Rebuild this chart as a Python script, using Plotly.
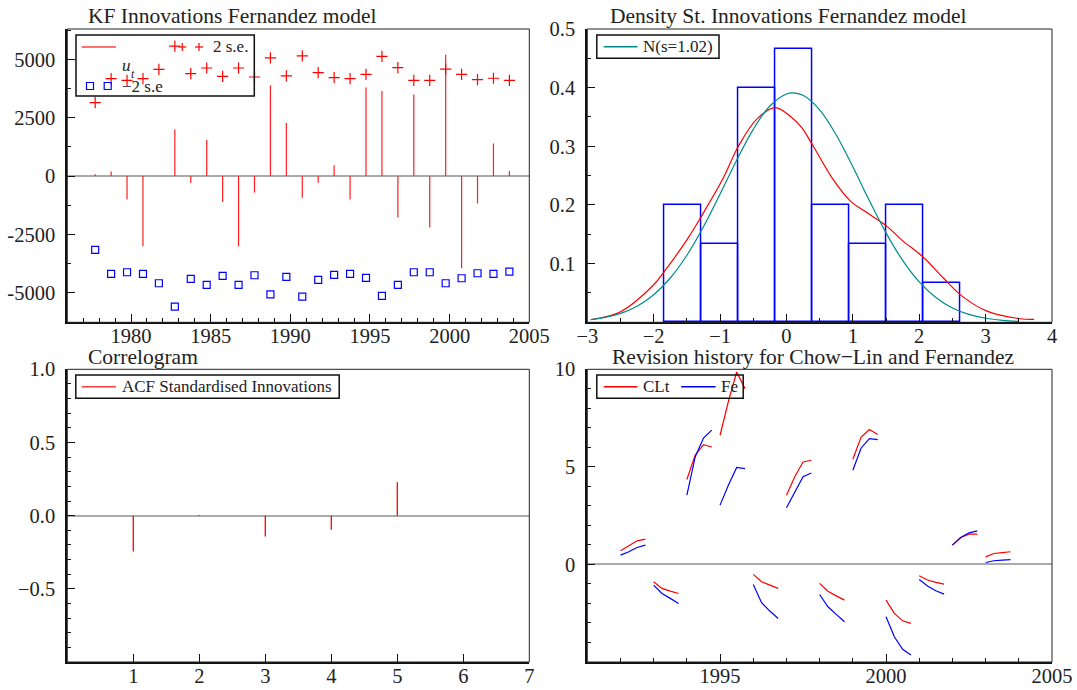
import plotly.graph_objects as go

FONT = "Liberation Serif, Times New Roman, serif"
TXT = "#222222"

# ---------------- data: KF innovations ----------------
years = list(range(1977, 2004))
innov = [80, 200, -1000, -3000, 20, 2000, -300, 1550, -1100, -3000, -700, 3880, 2270,
         -930, -280, 450, -1000, 3800, 3650, -1770, 3500, -2200, 5200, -3950, -1170, 1400, 220]
se_upper = [3150, 4175, 4100, 4175, 4573, 5570, 4390, 4630, 4273, 4630, 4245, 5060, 4290,
            5145, 4430, 4215, 4175, 4360, 5130, 4645, 4100, 4100, 4585, 4360, 4130, 4190, 4100]
se_lower = [-3162, -4188, -4117, -4188, -4587, -5585, -4402, -4658, -4274, -4658, -4245, -5060, -4316,
            -5160, -4444, -4231, -4188, -4359, -5130, -4658, -4117, -4117, -4587, -4373, -4160, -4188, -4088]
period_offset = 0.75

# ---------------- data: density ----------------
bin_centers = [-1.561, -1.003, -0.445, 0.113, 0.671, 1.229, 1.787, 2.345]
bin_density = [0.2, 0.1333, 0.4, 0.4667, 0.2, 0.1333, 0.2, 0.0667]
bin_width = 0.558
kde_x = [-2.92, -2.5, -2.0, -1.83, -1.48, -1.28, -0.97, -0.72, -0.45, -0.17, 0.07, 0.23,
         0.40, 0.70, 0.96, 1.21, 1.51, 1.73, 2.07, 2.36, 2.64, 3.02, 3.52, 3.73]
kde_y = [0.005, 0.018, 0.064, 0.088, 0.144, 0.181, 0.242, 0.301, 0.346, 0.366, 0.350, 0.332,
         0.301, 0.244, 0.207, 0.187, 0.164, 0.141, 0.110, 0.076, 0.045, 0.019, 0.006, 0.005]
norm_x = [-2.95, -2.75, -2.5, -2.25, -2.0, -1.75, -1.5, -1.25, -1.0, -0.75, -0.5, -0.25, 0.0,
          0.1, 0.25, 0.5, 0.75, 1.0, 1.25, 1.5, 1.75, 2.0, 2.25, 2.5, 2.75, 3.0, 3.25, 3.5]
norm_y = [0.0045, 0.0079, 0.0152, 0.0275, 0.0470, 0.0755, 0.1143, 0.1629, 0.2187, 0.2764,
          0.3290, 0.3687, 0.3892, 0.3911, 0.3869, 0.3622, 0.3193, 0.2650, 0.2071, 0.1525,
          0.1057, 0.0690, 0.0424, 0.0245, 0.0134, 0.0069, 0.0033, 0.0015]

# ---------------- data: correlogram ----------------
lags = [1, 2, 3, 4, 5]
acf = [-0.245, 0.005, -0.143, -0.097, 0.228]

# ---------------- data: revision history ----------------
rev_years = list(range(1992, 2004))
quarters = [0.0, 0.25, 0.5, 0.75]
clt = [[0.70, 0.94, 1.21, 1.30], [-0.89, -1.23, -1.37, -1.49], [4.35, 5.60, 6.14, 6.02],
       [6.62, 8.35, 9.86, 9.01], [-0.51, -0.89, -1.06, -1.23], [3.55, 4.49, 5.25, 5.34],
       [-0.97, -1.37, -1.61, -1.83], [5.39, 6.53, 6.91, 6.66], [-1.83, -2.51, -2.89, -3.02],
       [-0.58, -0.80, -0.92, -1.01], [0.99, 1.38, 1.55, 1.55], [0.39, 0.56, 0.61, 0.65]]
fe = [[0.48, 0.65, 0.87, 0.99], [-1.06, -1.49, -1.74, -2.00], [3.55, 5.51, 6.48, 6.88],
      [3.04, 4.06, 4.97, 4.91], [-1.03, -1.96, -2.39, -2.77], [2.90, 3.72, 4.49, 4.69],
      [-1.54, -2.17, -2.56, -2.94], [4.83, 5.97, 6.45, 6.40], [-2.68, -3.71, -4.35, -4.64],
      [-0.77, -1.11, -1.35, -1.52], [0.99, 1.38, 1.62, 1.72], [0.10, 0.19, 0.22, 0.25]]

# ---------------- layout geometry (pixels) ----------------
W, H = 1077, 690
ML, MR, MT, MB = 67, 25, 29, 28
PW, PH = W - ML - MR, H - MT - MB


def PX(x):
    return (x - ML) / PW


def PY(y):
    return (H - MB - y) / PH


LX = [PX(67.3), PX(529.3)]
RX = [PX(587.3), 1.0]
TY = [PY(322.3), 1.0]
BY = [0.0, PY(369.3)]

fig = go.Figure()

# panel 1: stems + bands
sx, sy = [], []
for y, v in zip(years, innov):
    t = y + period_offset
    sx += [t, t, None]
    sy += [0, v, None]
fig.add_trace(go.Scatter(x=sx, y=sy, mode="lines", line=dict(color="#ff2020", width=1.2),
                         xaxis="x", yaxis="y", hoverinfo="skip"))
fig.add_trace(go.Scatter(x=[y + period_offset for y in years], y=se_upper, mode="markers",
                         marker=dict(symbol="cross-thin", size=8, line=dict(color="#ff0000", width=1.2)),
                         xaxis="x", yaxis="y"))
fig.add_trace(go.Scatter(x=[y + period_offset for y in years], y=se_lower, mode="markers",
                         marker=dict(symbol="square-open", size=7, color="#0000ff", line=dict(width=1.2)),
                         xaxis="x", yaxis="y"))

# panel 2: histogram + densities
fig.add_trace(go.Bar(x=bin_centers, y=bin_density, width=bin_width,
                     marker=dict(color="rgba(0,0,0,0)", line=dict(color="#0000ff", width=1.5)),
                     xaxis="x2", yaxis="y2"))
fig.add_trace(go.Scatter(x=kde_x, y=kde_y, mode="lines", line=dict(color="#ff0000", width=1.2, shape="spline"),
                         xaxis="x2", yaxis="y2"))
fig.add_trace(go.Scatter(x=norm_x, y=norm_y, mode="lines", line=dict(color="#008b8b", width=1.2, shape="spline"),
                         xaxis="x2", yaxis="y2"))

# panel 3: ACF
ax_, ay_ = [], []
for l, v in zip(lags, acf):
    ax_ += [l, l, None]
    ay_ += [0, v, None]
fig.add_trace(go.Scatter(x=ax_, y=ay_, mode="lines", line=dict(color="#ff0000", width=1.3),
                         xaxis="x3", yaxis="y3"))

# panel 4: revisions
for yr, c, f in zip(rev_years, clt, fe):
    xs = [yr + q for q in quarters]
    fig.add_trace(go.Scatter(x=xs, y=c, mode="lines", line=dict(color="#ff0000", width=1.2),
                             xaxis="x4", yaxis="y4"))
    fig.add_trace(go.Scatter(x=xs, y=f, mode="lines", line=dict(color="#0000ff", width=1.2),
                             xaxis="x4", yaxis="y4"))


def axis(**kw):
    d = dict(showline=True, linecolor="#111111", linewidth=2, ticks="inside", ticklen=8,
             tickwidth=1, tickcolor="#111111", showgrid=False, zeroline=False, automargin=False,
             tickfont=dict(size=20.5, family=FONT, color=TXT), ticklabelstandoff=6,
             minor=dict(ticks="inside", ticklen=4, tickwidth=1, tickcolor="#111111", showgrid=False))
    minor = kw.pop("minor", None)
    if minor is not None:
        d["minor"].update(minor)
    d.update(kw)
    return d


zl = dict(zeroline=True, zerolinecolor="#aaaaaa", zerolinewidth=2)
xs_off = -6

fig.update_layout(
    template="none",
    width=W, height=H, margin=dict(l=ML, r=MR, t=MT, b=MB, autoexpand=False),
    paper_bgcolor="white", plot_bgcolor="white", showlegend=False, bargap=0,
    font=dict(family=FONT, color=TXT),
    xaxis=axis(domain=LX, anchor="y", range=[1976, 2005], tickmode="linear", tick0=1980, dtick=5,
               ticklabelstandoff=xs_off, minor=dict(tick0=1976, dtick=1)),
    yaxis=axis(domain=TY, anchor="x", range=[-6260, 6300], tickmode="array",
               tickvals=[-5000, -2500, 0, 2500, 5000], ticktext=["-5000", "-2500", "0", "2500", "5000"],
               minor=dict(tick0=0, dtick=1250), **zl),
    xaxis2=axis(domain=RX, anchor="y2", range=[-3, 4], tickmode="linear", tick0=-3, dtick=1,
                ticklabelstandoff=xs_off, minor=dict(tick0=-3, dtick=0.5)),
    yaxis2=axis(domain=TY, anchor="x2", range=[0, 0.5], tickmode="array",
                tickvals=[0.1, 0.2, 0.3, 0.4, 0.5], ticktext=["0.1", "0.2", "0.3", "0.4", "0.5"],
                minor=dict(tick0=0, dtick=0.05)),
    xaxis3=axis(domain=LX, anchor="y3", range=[0, 7], tickmode="array",
                tickvals=[1, 2, 3, 4, 5, 6, 7], ticktext=["1", "2", "3", "4", "5", "6", "7"],
                ticklabelstandoff=xs_off, minor=dict(ticks="")),
    yaxis3=axis(domain=BY, anchor="x3", range=[-1, 1], tickmode="array",
                tickvals=[-0.5, 0, 0.5, 1.0], ticktext=["\u22120.5", "0.0", "0.5", "1.0"],
                minor=dict(tick0=0, dtick=0.1), **zl),
    xaxis4=axis(domain=RX, anchor="y4", range=[1991, 2005], tickmode="array",
                tickvals=[1995, 2000, 2005], ticktext=["1995", "2000", "2005"],
                ticklabelstandoff=xs_off, minor=dict(tick0=1991, dtick=1)),
    yaxis4=axis(domain=BY, anchor="x4", range=[-5, 10], tickmode="array",
                tickvals=[0, 5, 10], ticktext=["0", "5", "10"],
                minor=dict(tick0=0, dtick=1), **zl),
)

shapes = []
annotations = []

# thin frame around each panel
for xd, yd in [(LX, TY), (RX, TY), (LX, BY), (RX, BY)]:
    shapes.append(dict(type="rect", xref="paper", yref="paper", x0=xd[0], x1=xd[1], y0=yd[0], y1=yd[1],
                       line=dict(color="#222222", width=1), layer="above"))

# titles
titles = [("KF Innovations Fernandez model", 86, 30.5),
          ("Density St. Innovations Fernandez model", 608, 30.5),
          ("Correlogram", 86, 371),
          ("Revision history for Chow\u2212Lin and Fernandez", 609.5, 371)]
for t, x, y in titles:
    annotations.append(dict(text=t, x=PX(x), y=PY(y), xref="paper", yref="paper", xanchor="left",
                            yanchor="bottom", showarrow=False, font=dict(size=21.5, family=FONT, color=TXT)))


def box(x0, x1, y0, y1):
    shapes.append(dict(type="rect", xref="paper", yref="paper", x0=PX(x0), x1=PX(x1), y0=PY(y1), y1=PY(y0),
                       line=dict(color="#111111", width=1.5)))


def seg(x0, x1, y0, y1, color, w=1.5):
    shapes.append(dict(type="line", xref="paper", yref="paper", x0=PX(x0), x1=PX(x1), y0=PY(y0), y1=PY(y1),
                       line=dict(color=color, width=w)))


def label(text, x, y, size=17, anchor="left"):
    annotations.append(dict(text=text, x=PX(x), y=PY(y), xref="paper", yref="paper", xanchor=anchor,
                            yanchor="middle", showarrow=False, font=dict(size=size, family=FONT, color=TXT)))


def plus(x, y, color="#ff0000"):
    seg(x - 4, x + 4, y, y, color, 1.2)
    seg(x, x, y - 4, y + 4, color, 1.2)


def square(x, y, color="#0000ff"):
    shapes.append(dict(type="rect", xref="paper", yref="paper", x0=PX(x - 3.5), x1=PX(x + 3.5),
                       y0=PY(y + 3.5), y1=PY(y - 3.5), line=dict(color=color, width=1.2)))


# legend panel 1
box(76, 254.3, 35, 96)
seg(81.7, 116, 47, 47, "#ff4040")
plus(182.3, 47)
plus(199, 47)
label("2 s.e.", 211, 47)
label("<i>u</i>", 120, 65, size=17)
label("<i>t</i>", 128.5, 74, size=12)
square(90, 86)
square(107.7, 86)
label("\u22122 s.e", 119.5, 86)

# legend panel 2
box(596.8, 719, 35, 58.3)
seg(603.7, 637.5, 46.7, 46.7, "#008b8b")
label("N(s=1.02)", 640.5, 46.7)

# legend panel 3
box(75.8, 339.2, 375, 398.3)
seg(81.6, 116, 386.7, 386.7, "#ff4040")
label("ACF Standardised Innovations", 119.5, 386.7)

# legend panel 4
box(596.8, 743.2, 375, 398.3)
seg(603.7, 637.5, 386.7, 386.7, "#ff0000")
label("CLt", 640.5, 386.7)
seg(681.2, 715.6, 386.7, 386.7, "#0000ff")
label("Fe", 719, 386.7)

fig.update_layout(shapes=shapes, annotations=annotations)
fig.write_html("out.html")
